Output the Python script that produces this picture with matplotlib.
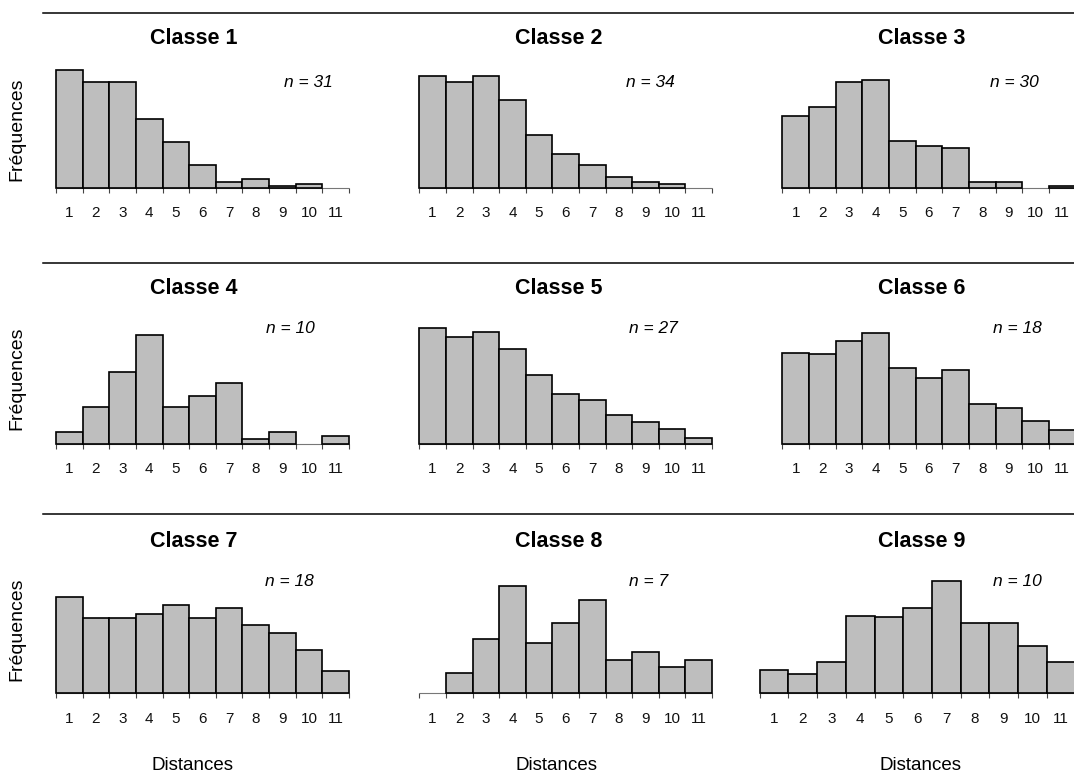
import matplotlib
matplotlib.use('Agg')
import matplotlib.pyplot as plt
from matplotlib.lines import Line2D

plt.rcParams['font.family'] = ['Liberation Sans', 'DejaVu Sans']

# ---------------- data ----------------
distances = list(range(1, 12))
tick_labels = [str(d) for d in distances]
classes = ['Classe 1', 'Classe 2', 'Classe 3', 'Classe 4', 'Classe 5',
           'Classe 6', 'Classe 7', 'Classe 8', 'Classe 9']
n_values = [31, 34, 30, 10, 27, 18, 18, 7, 10]

freq_c1 = [352, 318, 318, 205, 136, 69, 16, 27, 5, 11, 0]
freq_c2 = [335, 318, 335, 262, 158, 101, 69, 33, 16, 11, 0]
freq_c3 = [216, 243, 318, 323, 141, 125, 119, 16, 16, 0, 5]
freq_c4 = [35, 109, 216, 325, 109, 142, 183, 13, 36, 0, 23]
freq_c5 = [348, 319, 336, 285, 206, 149, 131, 86, 64, 45, 18]
freq_c6 = [273, 268, 308, 331, 228, 198, 222, 120, 108, 69, 40]
freq_c7 = [289, 227, 227, 238, 266, 227, 255, 204, 181, 130, 68]
freq_c8 = [0, 62, 164, 323, 152, 210, 279, 101, 124, 78, 101]
freq_c9 = [70, 59, 94, 233, 229, 257, 336, 211, 211, 143, 93]
freqs = [freq_c1, freq_c2, freq_c3, freq_c4, freq_c5,
         freq_c6, freq_c7, freq_c8, freq_c9]

ylabel = 'Fréquences'
xlabel = 'Distances'

# ---------------- layout (pixels) ----------------
W, H = 1074, 773
fig = plt.figure(figsize=(W / 100, H / 100), dpi=100)


def fx(px):
    return px / W


def fy(py):
    return 1 - py / H


AX_H = 125  # axes height in px
panel_x = [(56, 349), (419.3, 712), (782.3, 1075.6),
           (56, 349), (419.3, 712), (782.3, 1075.6),
           (56, 349), (419.3, 712), (759.7, 1075.4)]
row_base = [187.7, 443.7, 693.3]
row_line = [13.3, 263.3, 514]
title_base = [44.3, 294.3, 547.3]
title_cx = [194, 558.6, 921.5]
n_base = [87.3, 333.3, 586]
n_cx = [[308, 650, 1014.5], [290, 653, 1017], [289, 649, 1017]]
ylab_cy = [129, 378.5, 629]

for i in range(9):
    r, c = divmod(i, 3)
    x0, x1 = panel_x[i]
    base = row_base[r]
    ax = fig.add_axes([fx(x0), fy(base), (x1 - x0) / W, AX_H / H])
    ax.set_xlim(0.5, 11.5)
    ax.set_ylim(0, AX_H * 3)
    for s in ax.spines.values():
        s.set_visible(False)
    ax.patch.set_alpha(0)
    ax.set_yticks([])
    # baseline axis line
    ax.plot([0.5, 11.5], [0, 0], color='#777777', lw=0.8, zorder=1,
            clip_on=False, solid_capstyle='butt')
    xs = [d for d, v in zip(distances, freqs[i]) if v > 0]
    vs = [v for v in freqs[i] if v > 0]
    ax.bar(xs, vs, width=1.0, color='#BEBEBE', edgecolor='black',
           linewidth=1.2, zorder=2, clip_on=False)
    edges = [d - 0.5 for d in distances] + [distances[-1] + 0.5]
    ax.set_xticks(edges)
    ax.set_xticklabels([''] * len(edges))
    ax.tick_params(axis='x', which='major', length=3.8, width=0.8,
                   color='#444444', direction='out')
    ax.set_xticks(distances, minor=True)
    ax.set_xticklabels(tick_labels, minor=True, fontsize=11)
    ax.tick_params(axis='x', which='minor', length=0, pad=13.5,
                   labelcolor='#111111')

    fig.text(fx(title_cx[c]), fy(title_base[r]), classes[i],
             fontsize=15.5, fontweight='bold', ha='center', va='baseline')
    fig.text(fx(n_cx[r][c]), fy(n_base[r]), f'n = {n_values[i]}',
             fontsize=12.5, fontstyle='italic', ha='center', va='baseline')

for r in range(3):
    fig.add_artist(Line2D([fx(43), 1.0], [fy(row_line[r])] * 2,
                          color='black', lw=1.1, transform=fig.transFigure))
    fig.text(fx(17), fy(ylab_cy[r]), ylabel, fontsize=14, rotation=90,
             ha='center', va='center')

for c, cx in enumerate([192.7, 556.7, 920.7]):
    fig.text(fx(cx), fy(770), xlabel, fontsize=13.5, ha='center',
             va='baseline')

fig.savefig('out.png', dpi=100)
